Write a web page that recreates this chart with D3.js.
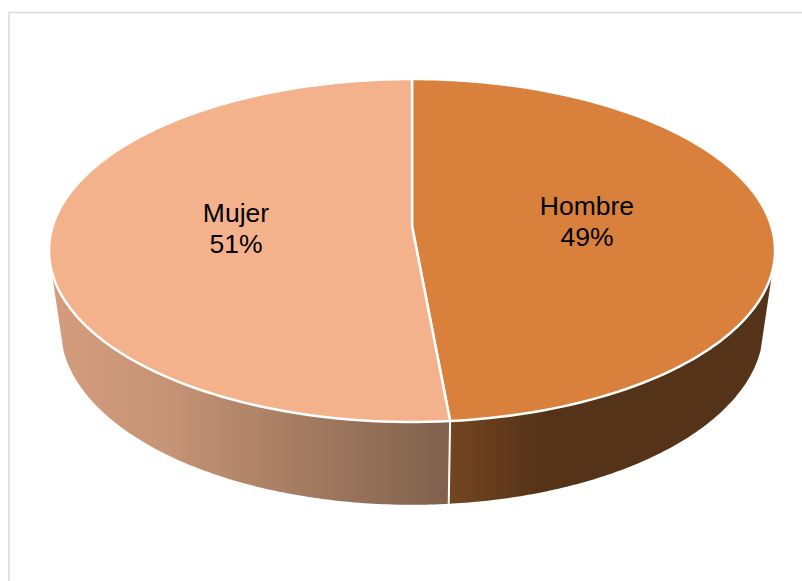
<!DOCTYPE html>
<html>
<head>
<meta charset="utf-8">
<script src="https://cdn.jsdelivr.net/npm/d3@7"></script>
<style>
html, body { margin: 0; padding: 0; background: #fff; }
svg { display: block; }
text { font-family: "Liberation Sans", Arial, sans-serif; fill: #000; }
</style>
</head>
<body>
<svg width="802" height="581"></svg>
<script>
var categories = ["Hombre", "Mujer"];
var shares = [0.4855, 0.5145];

var svg = d3.select("svg");

var topColors = ["#d8803c", "#f4b28c"];
var wallStops = [
	[[0, "#734520"], [0.28, "#553318"], [1, "#553318"]],
	[[0, "#d49d7d"], [0.3, "#c59376"], [0.65, "#a27a60"], [1, "#7f604c"]]
];
var wallRange = [[450, 775], [50, 450]];
var labelPos = [[587, 206], [236, 213]];

// Perspective of the disc: u,v on the unit circle, h = 0 top face, h = 1 bottom rim
var cx = 412, cy = 226, a = 359.3, b = 168, k = 1 / 7, m = 0.0324, n = 80;
function project(theta, h) {
	var u = Math.sin(theta), v = -Math.cos(theta);
	var w = 1 - k * v + m * h;
	return [cx + a * u / w, cy + (b * v + n * h) / w];
}

var arcs = d3.pie().sort(null).value((d) => d)(shares);
var line = d3.line();

function arcPoints(t0, t1, h) {
	return d3.range(0, 121).map((i) => project(t0 + (t1 - t0) * i / 120, h));
}

// Frame
svg.append("path")
	.attr("d", "M9,581V12.5H802")
	.attr("fill", "none")
	.attr("stroke", "#d9d9d9")
	.attr("stroke-width", 1.5);

// Wall gradients
var defs = svg.append("defs");
wallStops.forEach((stops, i) => {
	var grad = defs.append("linearGradient")
		.attr("id", "wall" + i)
		.attr("gradientUnits", "userSpaceOnUse")
		.attr("x1", wallRange[i][0]).attr("x2", wallRange[i][1])
		.attr("y1", 0).attr("y2", 0);
	grad.selectAll("stop")
		.data(stops)
		.enter().append("stop")
		.attr("offset", (d) => d[0])
		.attr("stop-color", (d) => d[1]);
});

// Walls, only the part facing the viewer
var wallFrom = Math.PI * 0.583, wallTo = Math.PI * 1.417;
svg.append("g").selectAll("path")
	.data(arcs)
	.enter().append("path")
	.attr("d", (d) => {
		var t0 = Math.max(d.startAngle, wallFrom), t1 = Math.min(d.endAngle, wallTo);
		return line(arcPoints(t0, t1, 0).concat(arcPoints(t1, t0, 1))) + "Z";
	})
	.attr("fill", (d, i) => "url(#wall" + i + ")");

// Edge between the two walls
var edge = arcs[0].endAngle;
svg.append("path")
	.attr("d", line([project(edge, 0), project(edge, 1)]))
	.attr("stroke", "#fff")
	.attr("stroke-width", 2);

// Top face
svg.append("g").selectAll("path")
	.data(arcs)
	.enter().append("path")
	.attr("d", (d) => line([[cx, cy]].concat(arcPoints(d.startAngle, d.endAngle, 0))) + "Z")
	.attr("fill", (d, i) => topColors[i])
	.attr("stroke", "#fff")
	.attr("stroke-width", 2.5)
	.attr("stroke-linejoin", "round");

// Labels
var label = svg.append("g").selectAll("text")
	.data(arcs)
	.enter().append("text")
	.attr("text-anchor", "middle")
	.attr("font-size", 26.5);
label.append("tspan")
	.attr("x", (d, i) => labelPos[i][0])
	.attr("y", (d, i) => labelPos[i][1] + 9)
	.text((d, i) => categories[i]);
label.append("tspan")
	.attr("x", (d, i) => labelPos[i][0])
	.attr("y", (d, i) => labelPos[i][1] + 40)
	.text((d) => d3.format(".0%")(d.data));
</script>
</body>
</html>
